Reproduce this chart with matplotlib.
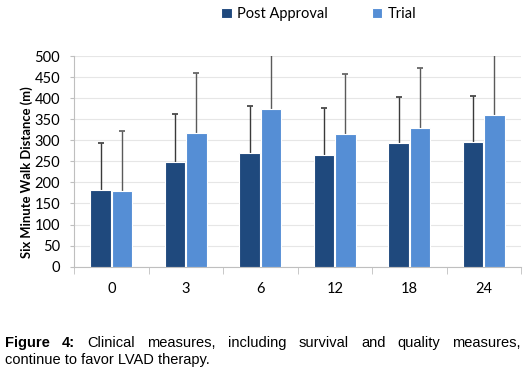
import matplotlib
matplotlib.use("Agg")
import matplotlib.pyplot as plt
import numpy as np

categories = ["0", "3", "6", "12", "18", "24"]
post_approval = [181, 248, 269, 265, 293, 295]
post_err = [112, 114, 112, 112, 110, 111]
trial = [180, 317, 374, 316, 328, 359]
trial_err = [142, 142, 140, 142, 143, 150]
yticks = list(range(0, 501, 50))

c_dark = "#1F497D"
c_light = "#558ED5"
W, H = 526, 371
fig = plt.figure(figsize=(W/100, H/100), dpi=100)
ax = fig.add_axes([74/W, 1-266.7/H, (521-74)/W, (266.7-56)/H])

x = np.arange(len(categories))
bw = 0.275
xp = x - bw/2 - 0.005
xt = x + bw/2 + 0.005
ax.bar(xp, post_approval, bw, color=c_dark, edgecolor="white", linewidth=0.8,
       label="Post Approval", zorder=3)
ax.bar(xt, trial, bw, color=c_light, edgecolor="white", linewidth=0.8,
       label="Trial", zorder=3)
for xs, vals, errs, col in [(xp, post_approval, post_err, "#3A3A3A"),
                            (xt, trial, trial_err, "#5A5A5A")]:
    vals = np.array(vals); errs = np.array(errs)
    ax.vlines(xs, vals, vals + errs, color=col, linewidth=1.0, zorder=2.5, clip_on=True)
    ax.scatter(xs, vals + errs, marker="_", s=18, color=col, linewidths=1.2, zorder=2.5)

ax.set_xlim(-0.5, len(x) - 0.5)
ax.set_ylim(0, 500)
ax.set_yticks(yticks)
ax.set_yticklabels([str(v) for v in yticks], fontsize=10.5, family="Lato")
ax.set_xticks(x)
ax.set_xticklabels(categories, fontsize=10.5, family="Lato")
ax.set_xticks(np.arange(-0.5, len(x), 1), minor=True)
ax.tick_params(axis="x", which="major", length=0, pad=11)
ax.tick_params(axis="x", which="minor", length=5, color="#BFBFBF")
ax.tick_params(axis="y", length=3, color="#BFBFBF", pad=7)
ax.grid(axis="y", color="#E6E6E6", linewidth=0.8, zorder=0)
for s in ["top", "right"]:
    ax.spines[s].set_visible(False)
for s in ["left", "bottom"]:
    ax.spines[s].set_color("#BFBFBF")
ax.set_ylabel("Six Minute Walk Distance (m)", fontsize=9.4, fontweight="bold", family="Lato")
ax.yaxis.set_label_coords(-0.092, 0.45)

leg = fig.legend(loc="center", bbox_to_anchor=(319/W, 1-14/H), ncol=2, frameon=False,
                 prop={"family": "Lato", "size": 10.5}, handlelength=0.7, handleheight=0.7,
                 handletextpad=0.4, columnspacing=3.0)

# Caption (justified first line)
r = fig.canvas.get_renderer()
words = [("Figure", "bold"), ("4:", "bold"), ("Clinical", "normal"), ("measures,", "normal"),
         ("including", "normal"), ("survival", "normal"), ("and", "normal"),
         ("quality", "normal"), ("measures,", "normal")]
left, right = 5, 521
y1 = 1 - 343/H
ts = []
for w, fw in words:
    t = fig.text(0, y1, w, fontsize=10.5, fontweight=fw, family="Liberation Sans", va="center")
    ts.append(t)
fig.canvas.draw()
widths = [t.get_window_extent(r).width for t in ts]
gap = (right - left - sum(widths)) / (len(ts) - 1)
pos = left
for t, wdt in zip(ts, widths):
    t.set_x(pos / W)
    pos += wdt + gap
fig.text(left/W, 1 - 360/H, "continue to favor LVAD therapy.", fontsize=10.5,
         family="Liberation Sans", va="center")

fig.savefig("out.png", dpi=100)
